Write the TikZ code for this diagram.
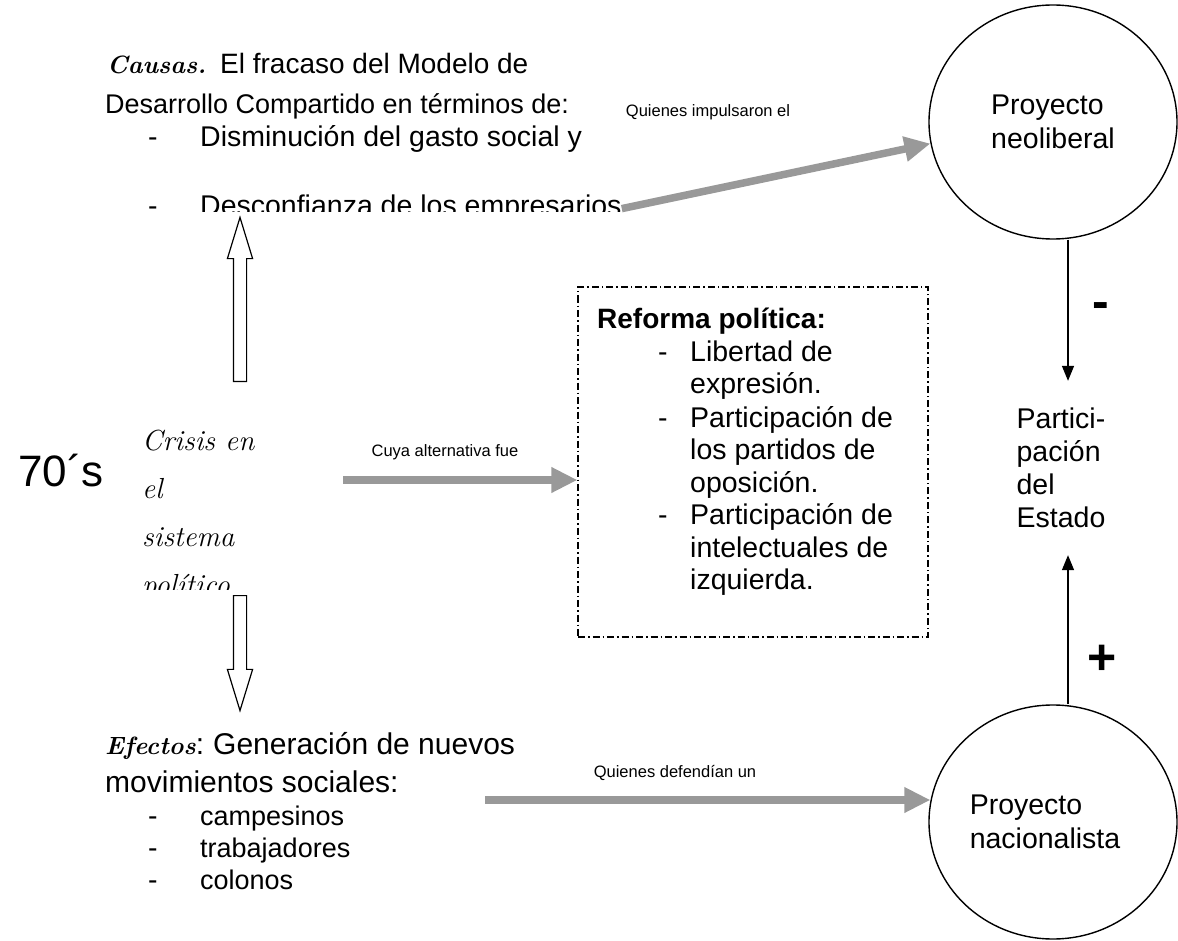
\documentclass[tikz,border=0pt]{standalone}
\usepackage{fontspec}
\setsansfont{Liberation Sans}
\usetikzlibrary{arrows.meta,shapes.geometric,shapes.arrows}

\colorlet{flow gray}{black!40}
\newcommand{\hand}{\rmfamily\itshape}
\tikzset{
  txt/.style={anchor=base west, inner sep=0pt, font=\sffamily\fontsize{28.5}{33}\selectfont},
  small/.style={inner sep=0pt, font=\sffamily\fontsize{16.5}{20}\selectfont},
  sign/.style={inner sep=0pt, font=\sffamily\bfseries\fontsize{50}{56}\selectfont},
  handbig/.style={anchor=base west, inner sep=0pt, font=\hand\fontsize{29}{48}\selectfont}
  }
\tikzstyle{flow} = [draw=flow gray, line width=7.5pt, -{Triangle[length=26pt,width=24pt]}]
\tikzstyle{link} = [draw, line width=1.4pt, -{Triangle[length=15pt,width=12pt]}]
\tikzstyle{project} = [ellipse, draw, line width=1.4pt, minimum width=248pt, minimum height=234pt,
  align=left, font=\sffamily\fontsize{28.5}{34}\selectfont]
\tikzstyle{hollow} = [single arrow, draw, line width=1.2pt, inner sep=6pt, minimum width=24pt,
  single arrow head extend=6pt, single arrow tip angle=34, anchor=tail]

\begin{document}
\begin{tikzpicture}[x=1pt, y=-1pt]
    \useasboundingbox (0,0) rectangle (1178,941);

    % Causes
    \node[txt, font=\sffamily\fontsize{28}{33}\selectfont] (causas) at (107,74)
      {{\hand\bfseries\fontsize{25}{30}\selectfont Causas.}\hspace{14pt}El fracaso del Modelo de};
    \node[txt, font=\sffamily\fontsize{27}{33}\selectfont] (modelo) at (105,114)
      {Desarrollo Compartido en términos de:};
    \node[txt] (dash1) at (148,147) {-};
    \node[txt] (gasto) at (200,147) {Disminución del gasto social y};
    \begin{scope}
      \clip (100,150) rectangle (700,212);
      \node[txt] (dash2) at (148,216) {-};
      \node[txt] (desconf) at (200,216) {Desconfianza de los empresarios};
    \end{scope}

    % The crisis itself
    \node[txt, font=\sffamily\fontsize{44}{48}\selectfont] (decada) at (18,486) {70´s};
    \begin{scope}
      \clip (100,400) rectangle (320,589);
      \foreach \word [count=\i] in {Crisis en, el, sistema, político}
        \node[handbig] (crisis\i) at (142,{402+48*\i}) {\word};
    \end{scope}

    % Hollow arrows up and down
    \node[hollow, rotate=90, minimum height=164pt] (subir) at (240,382) {};
    \node[hollow, rotate=-90, minimum height=115pt] (bajar) at (240,595) {};

    % Effects
    \node[txt, font=\sffamily\fontsize{30}{33}\selectfont] (efectos) at (105,754)
      {{\hand\bfseries\fontsize{25}{30}\selectfont Efectos}:\hspace{9pt}Generación de nuevos};
    \node[txt, font=\sffamily\fontsize{30}{33}\selectfont] (movs) at (105,792) {movimientos sociales:};
    \foreach \y/\grupo in {825/campesinos, 857/trabajadores, 889/colonos} {
      \node[txt] at (148,\y) {-};
      \node[txt, font=\sffamily\fontsize{27}{33}\selectfont] (\grupo) at (200,\y) {\grupo};
    }

    % Political reform box
    \node[draw, line width=1.1pt, dash pattern=on 7pt off 3pt on 1.5pt off 3pt,
      minimum width=350pt, minimum height=350pt] (reforma) at (753,462) {};
    \node[txt, font=\sffamily\bfseries\fontsize{28}{33}\selectfont] (titulo) at (597,329) {Reforma política:};
    \foreach \y in {361,427,524}
      \node[txt] at (658,\y) {-};
    \foreach \y/\linea in {361/Libertad de, 393/expresión., 427/Participación de, 459/los partidos de,
      492/oposición., 524/Participación de, 557/intelectuales de, 589/izquierda.}
      \node[txt] at (690,\y) {\linea};

    % The two projects and the state
    \node[project] (neolib) at (1053,122) {Proyecto\\neoliberal};
    \node[project] (nacional) at (1053,822) {};
    \node[inner sep=0pt, align=left, font=\sffamily\fontsize{28.5}{34}\selectfont]
      (nacionaltxt) at (1045,822) {Proyecto\\nacionalista};
    \node[inner ysep=27pt, inner xsep=0pt, align=left, font=\sffamily\fontsize{28.5}{33}\selectfont]
      (estado) at (1061,468) {Partici-\\pación\\del\\Estado};
    \coordinate (eje) at (1068,0);

    % Arrows between them
    \coordinate (altinicio) at (343,480);
    \coordinate (definicio) at (485,800);
    \path[flow] (desconf.east) -- (neolib.190);
    \path[flow] (altinicio) -- (altinicio -| reforma.west);
    \path[flow] (definicio) -- (nacional.170 |- definicio);
    \path[link] (neolib.south -| eje) -- (estado.north -| eje);
    \path[link] (nacional.north -| eje) -- (estado.south -| eje);

    % Labels on the arrows
    \node[small] (impulso) at (708,112) {Quienes impulsaron el};
    \node[small] (alterna) at (445,452) {Cuya alternativa fue};
    \node[small] (defensa) at (675,773) {Quienes defendían un};
    \node[sign] (menos) at (1101,311) {-};
    \node[sign] (mas) at (1102,660) {+};
\end{tikzpicture}
\end{document}
